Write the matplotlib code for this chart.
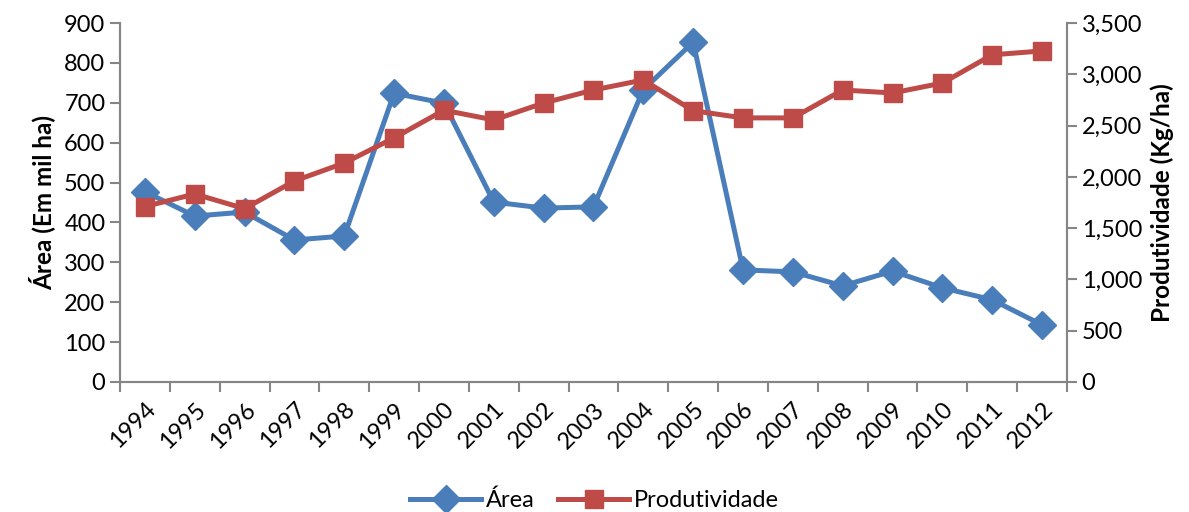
import matplotlib.pyplot as plt

years = [str(y) for y in range(1994, 2013)]
area = [477, 416, 426, 356, 366, 724, 699, 451, 436, 439,
        733, 852, 281, 276, 241, 278, 236, 206, 143]
produtividade = [1710, 1833, 1690, 1960, 2135, 2380, 2650, 2555, 2720, 2847,
                 2945, 2645, 2575, 2575, 2847, 2818, 2915, 3190, 3228]

plt.rcParams['font.family'] = ['Lato', 'DejaVu Sans']

blue = '#4a7ebb'
red = '#be4b48'
grey = '#868686'

fig = plt.figure(figsize=(11.89, 5.12), dpi=100)
ax = fig.add_axes([0.1009, 0.254, 0.7965, 0.701])
ax2 = ax.twinx()

x = list(range(len(years)))
l1, = ax.plot(x, area, color=blue, lw=3.6, marker='D', markersize=14,
              label='Área')
l2, = ax2.plot(x, produtividade, color=red, lw=3.6, marker='s', markersize=13,
               label='Produtividade')

ax.set_xlim(-0.5, len(years) - 0.5)
ax.set_ylim(0, 900)
ax2.set_ylim(0, 3500)
ax.set_yticks(range(0, 901, 100))
ax2.set_yticks(range(0, 3501, 500))
ax2.set_yticklabels([f'{v:,}' for v in range(0, 3501, 500)])

# ticks between categories, labels at the centres
ax.set_xticks([i - 0.5 for i in range(len(years) + 1)])
ax.set_xticklabels([])
ax.set_xticks(x, minor=True)
ax.set_xticklabels(years, minor=True, rotation=45, ha='right',
                   rotation_mode='anchor', fontsize=17)
ax.tick_params(axis='x', which='minor', length=0, pad=12)
ax.tick_params(axis='x', which='major', length=7, width=1.5, color=grey)

for a in (ax, ax2):
    a.tick_params(axis='y', length=7, width=1.5, color=grey, labelsize=17)
    a.spines['top'].set_visible(False)
    for side in ('left', 'right', 'bottom'):
        a.spines[side].set_color(grey)
        a.spines[side].set_linewidth(1.5)

ax.set_ylabel('Área (Em mil ha)', fontsize=17.5, fontweight='bold', labelpad=6)
ax2.set_ylabel('Produtividade (Kg/ha)', fontsize=17.5, fontweight='bold', labelpad=6)

fig.legend(handles=[l1, l2], loc='lower center', ncol=2, frameon=False,
           fontsize=17, bbox_to_anchor=(0.5, -0.04), handlelength=3,
           columnspacing=1.0, handletextpad=0.2)

fig.savefig('out.png', dpi=100)
